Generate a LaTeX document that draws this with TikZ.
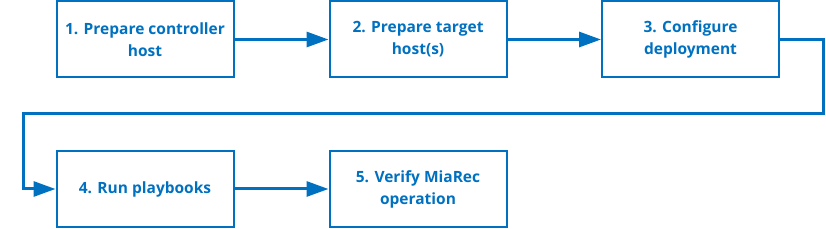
\documentclass[tikz,border=0pt]{standalone}
\usepackage{fontspec}
\setmainfont{Open Sans}
\usepackage{tikz}
\usetikzlibrary{arrows.meta}
\definecolor{stepblue}{HTML}{0070C0}

\tikzset{
  stepbox/.style={draw=stepblue,line width=2pt,minimum width=177pt,minimum height=76pt,
    align=center,text=stepblue,font=\fontsize{15.5}{22}\selectfont\bfseries,inner sep=0pt},
  flow/.style={draw=stepblue,line width=3pt,-{Triangle[length=22pt,width=15pt]}}
}

\begin{document}
\begin{tikzpicture}[x=1pt,y=-1pt]
\useasboundingbox (0,0) rectangle (826,229);

\node[stepbox] (prep) at (145,39.5) {1. Prepare controller\\host};
\node[stepbox] (target) at (418,39.5) {2. Prepare target\\host(s)};
\node[stepbox] (config) at (690.5,39.5) {3. Configure\\deployment};
\node[stepbox] (run) at (145,189) {4. Run playbooks};
\node[stepbox] (verify) at (418,189) {5. Verify MiaRec\\operation};

\coordinate (turnR) at (823,114);
\coordinate (turnL) at (23,114);

\draw[flow] (prep) -- (target);
\draw[flow] (target) -- (config);
\draw[flow] (config.east) -| (turnR) -- (turnL) |- (run.west);
\draw[flow] (run) -- (verify);
\end{tikzpicture}
\end{document}
